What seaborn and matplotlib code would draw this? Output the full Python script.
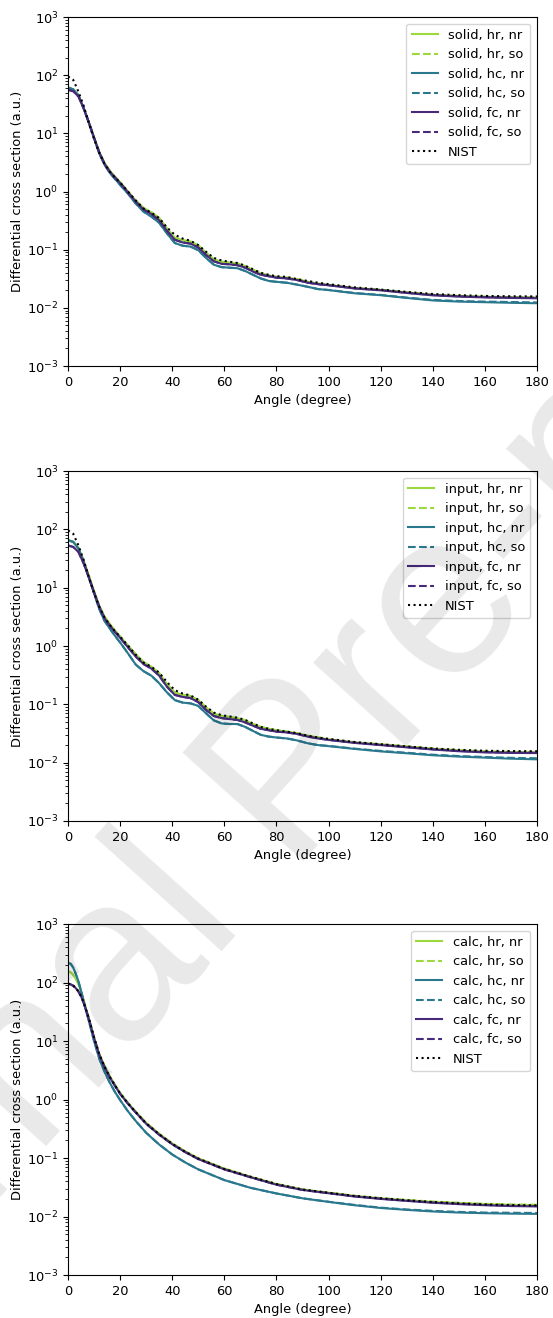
import numpy as np
import pandas as pd
import matplotlib
matplotlib.use("Agg")
import matplotlib.pyplot as plt
import seaborn as sns

# Scattering angles (degree) for the solid / input potentials
angles = [0, 2, 4, 6, 8, 10, 12, 14, 16, 18, 20, 23, 26, 29, 32, 35, 38, 41, 44, 47, 50, 53,
          56, 59, 62, 65, 68, 71, 74, 77, 80, 84, 88, 92, 96, 100, 110, 120, 130, 140, 150,
          160, 170, 180]
# Scattering angles (degree) for the calculated potential
angles_calc = [0, 1, 2, 3, 4, 5, 6, 7, 8, 10, 12, 14, 16, 18, 20, 23, 26, 30, 35, 40, 45, 50,
               60, 70, 80, 90, 100, 110, 120, 130, 140, 150, 160, 170, 180]

# --- solid-state potential ---
solid_hr_nr = [62, 57, 45, 27, 15.5, 8.5, 4.8, 3.1, 2.3, 1.8, 1.45, 1.0, 0.70, 0.52, 0.44, 0.35,
               0.23, 0.16, 0.145, 0.138, 0.118, 0.088, 0.068, 0.062, 0.060, 0.058, 0.052, 0.045,
               0.039, 0.036, 0.034, 0.033, 0.031, 0.028, 0.026, 0.0248, 0.0218, 0.0203, 0.0183,
               0.0167, 0.0159, 0.0154, 0.0151, 0.0149]
solid_hr_so = solid_hr_nr[:35] + [0.0249, 0.0219, 0.0204, 0.0185, 0.0169, 0.0161, 0.0156,
                                  0.0153, 0.0152]
solid_hc_nr = [61, 57, 45, 27, 15, 8.2, 4.5, 2.9, 2.1, 1.65, 1.3, 0.92, 0.62, 0.45, 0.37, 0.29,
               0.19, 0.13, 0.117, 0.113, 0.098, 0.072, 0.055, 0.050, 0.049, 0.048, 0.043, 0.037,
               0.032, 0.029, 0.028, 0.027, 0.025, 0.023, 0.021, 0.0202, 0.0178, 0.0165, 0.0148,
               0.0134, 0.0128, 0.0125, 0.0122, 0.0120]
solid_hc_so = solid_hc_nr[:35] + [0.0203, 0.0180, 0.0167, 0.0150, 0.0137, 0.0131, 0.0128,
                                  0.0126, 0.0124]
solid_fc_nr = [56, 53, 43, 27, 15.5, 8.4, 4.7, 3.0, 2.2, 1.75, 1.4, 0.97, 0.67, 0.49, 0.41, 0.32,
               0.21, 0.148, 0.133, 0.127, 0.109, 0.081, 0.063, 0.057, 0.056, 0.054, 0.049, 0.042,
               0.037, 0.035, 0.033, 0.032, 0.030, 0.027, 0.0255, 0.0244, 0.0215, 0.0200, 0.0180,
               0.0164, 0.0156, 0.0151, 0.0148, 0.0146]
solid_fc_so = solid_fc_nr[:35] + [0.0245, 0.0217, 0.0202, 0.0182, 0.0166, 0.0158, 0.0153,
                                  0.0150, 0.0148]
solid_nist = [95, 83, 52, 30, 15, 8.0, 4.6, 3.0, 2.2, 1.75, 1.42, 1.0, 0.70, 0.51, 0.43, 0.35,
              0.24, 0.18, 0.155, 0.142, 0.12, 0.092, 0.072, 0.065, 0.062, 0.059, 0.053, 0.046,
              0.040, 0.037, 0.035, 0.034, 0.031, 0.029, 0.027, 0.0255, 0.0225, 0.0206, 0.0188,
              0.0173, 0.0165, 0.0160, 0.0158, 0.0157]

# --- input potential ---
input_hr_nr = [66, 61, 48, 29, 16, 8.7, 4.9, 3.2, 2.4, 1.85, 1.45, 1.02, 0.72, 0.53, 0.44, 0.34,
               0.22, 0.158, 0.146, 0.139, 0.118, 0.088, 0.069, 0.063, 0.061, 0.058, 0.053, 0.046,
               0.041, 0.038, 0.036, 0.034, 0.032, 0.029, 0.027, 0.0250, 0.0222, 0.0205, 0.0188,
               0.0173, 0.0161, 0.0154, 0.0150, 0.0149]
input_hr_so = input_hr_nr[:35] + [0.0251, 0.0224, 0.0207, 0.0190, 0.0175, 0.0164, 0.0157,
                                  0.0153, 0.0152]
input_hc_nr = [65, 61, 47, 28, 15, 8.0, 4.3, 2.7, 2.0, 1.5, 1.15, 0.75, 0.48, 0.37, 0.31, 0.23,
               0.16, 0.118, 0.107, 0.104, 0.094, 0.070, 0.053, 0.047, 0.046, 0.046, 0.041, 0.035,
               0.030, 0.028, 0.027, 0.026, 0.024, 0.0215, 0.0200, 0.0192, 0.0172, 0.0156, 0.0145,
               0.0134, 0.0127, 0.0122, 0.0117, 0.0114]
input_hc_so = input_hc_nr[:35] + [0.0194, 0.0174, 0.0159, 0.0148, 0.0137, 0.0130, 0.0125,
                                  0.0121, 0.0119]
input_fc_nr = [53, 50, 41, 26, 15, 8.3, 4.7, 3.0, 2.25, 1.75, 1.38, 0.95, 0.66, 0.49, 0.41, 0.31,
               0.20, 0.145, 0.134, 0.128, 0.109, 0.080, 0.063, 0.058, 0.056, 0.054, 0.049, 0.043,
               0.038, 0.036, 0.034, 0.033, 0.031, 0.028, 0.026, 0.0245, 0.0218, 0.0200, 0.0183,
               0.0168, 0.0157, 0.0150, 0.0147, 0.0146]
input_fc_so = input_fc_nr[:35] + [0.0247, 0.0220, 0.0202, 0.0185, 0.0170, 0.0159, 0.0152,
                                  0.0149, 0.0148]
input_nist = [96, 84, 53, 30, 15, 8.1, 4.7, 3.1, 2.3, 1.8, 1.45, 1.02, 0.71, 0.52, 0.44, 0.35,
              0.24, 0.175, 0.153, 0.142, 0.12, 0.091, 0.072, 0.065, 0.062, 0.059, 0.054, 0.047,
              0.041, 0.038, 0.036, 0.034, 0.032, 0.029, 0.027, 0.0256, 0.0226, 0.0207, 0.0190,
              0.0175, 0.0166, 0.0160, 0.0158, 0.0157]

# --- calculated potential ---
calc_hr_nr = [155, 150, 135, 115, 95, 70, 50, 34, 24, 11.5, 6.0, 3.8, 2.5, 1.8, 1.3, 0.88, 0.62,
              0.40, 0.26, 0.178, 0.130, 0.099, 0.066, 0.048, 0.036, 0.029, 0.0255, 0.0225, 0.0205,
              0.0190, 0.0178, 0.0170, 0.0163, 0.0158, 0.0156]
calc_hr_so = calc_hr_nr[:26] + [0.0256, 0.0226, 0.0207, 0.0192, 0.0180, 0.0172, 0.0165,
                                0.0161, 0.0159]
calc_hc_nr = [215, 210, 180, 140, 105, 72, 48, 32, 22, 10, 5.0, 3.0, 1.95, 1.35, 0.98, 0.63, 0.43,
              0.27, 0.17, 0.115, 0.084, 0.064, 0.042, 0.031, 0.0248, 0.0205, 0.0178, 0.0156,
              0.0140, 0.0130, 0.0122, 0.0117, 0.0114, 0.0112, 0.0111]
calc_hc_so = calc_hc_nr[:26] + [0.0179, 0.0158, 0.0142, 0.0132, 0.0125, 0.0120, 0.0117,
                                0.0116, 0.0115]
calc_fc_nr = [95, 93, 88, 80, 70, 58, 45, 33, 24, 11.3, 5.8, 3.6, 2.4, 1.72, 1.25, 0.85, 0.60,
              0.385, 0.25, 0.172, 0.126, 0.096, 0.064, 0.047, 0.035, 0.0285, 0.0250, 0.0220,
              0.0200, 0.0185, 0.0172, 0.0163, 0.0156, 0.0151, 0.0149]
calc_fc_so = calc_fc_nr[:26] + [0.0251, 0.0222, 0.0202, 0.0187, 0.0174, 0.0165, 0.0158,
                                0.0153, 0.0151]
calc_nist = [96, 94, 89, 81, 71, 59, 46, 33.5, 24.5, 11.5, 5.9, 3.65, 2.45, 1.75, 1.27, 0.86, 0.61,
             0.39, 0.255, 0.175, 0.128, 0.098, 0.065, 0.048, 0.036, 0.029, 0.0255, 0.0225,
             0.0205, 0.0190, 0.0177, 0.0168, 0.0161, 0.0157, 0.0155]

panels = [
    ("solid", angles, [solid_hr_nr, solid_hr_so, solid_hc_nr, solid_hc_so, solid_fc_nr, solid_fc_so],
     solid_nist),
    ("input", angles, [input_hr_nr, input_hr_so, input_hc_nr, input_hc_so, input_fc_nr, input_fc_so],
     input_nist),
    ("calc", angles_calc, [calc_hr_nr, calc_hr_so, calc_hc_nr, calc_hc_so, calc_fc_nr, calc_fc_so],
     calc_nist),
]
variants = ["hr, nr", "hr, so", "hc, nr", "hc, so", "fc, nr", "fc, so"]

cmap = plt.get_cmap("viridis")
colors = [cmap(0.85), cmap(0.85), cmap(0.40), cmap(0.40), cmap(0.12), cmap(0.12)]
styles = ["-", "--", "-", "--", "-", "--"]

plt.rcParams["font.family"] = ["DejaVu Sans"]
plt.rcParams["font.size"] = 9.4

fig = plt.figure(figsize=(5.53, 13.18), dpi=100)
boxes = [
    [0.123, 0.7223, 0.848, 0.2648],
    [0.123, 0.3771, 0.848, 0.2655],
    [0.123, 0.0326, 0.848, 0.2663],
]

for box, (name, xs, series, nist) in zip(boxes, panels):
    ax = fig.add_axes(box)
    for vals, var, col, ls in zip(series, variants, colors, styles):
        df = pd.DataFrame({"angle": xs, "dcs": vals})
        sns.lineplot(data=df, x="angle", y="dcs", ax=ax, color=col, linestyle=ls,
                     linewidth=1.5, label=f"{name}, {var}")
    df = pd.DataFrame({"angle": xs, "dcs": nist})
    sns.lineplot(data=df, x="angle", y="dcs", ax=ax, color="black", linestyle=":",
                 linewidth=1.5, label="NIST")
    ax.set_yscale("log")
    ax.set_xlim(0, 180)
    ax.set_ylim(1e-3, 1e3)
    ax.set_xticks(np.arange(0, 181, 20))
    ax.set_xlabel("Angle (degree)")
    ax.set_ylabel("Differential cross section (a.u.)", labelpad=2)
    ax.legend(loc="upper right")

fig.text(0.530, 0.408, "Journal Pre-proof", fontsize=170, rotation=48,
         family="Liberation Sans", color="black", alpha=0.09,
         ha="center", va="center", rotation_mode="anchor", zorder=10)

fig.savefig("out.png", dpi=100)
